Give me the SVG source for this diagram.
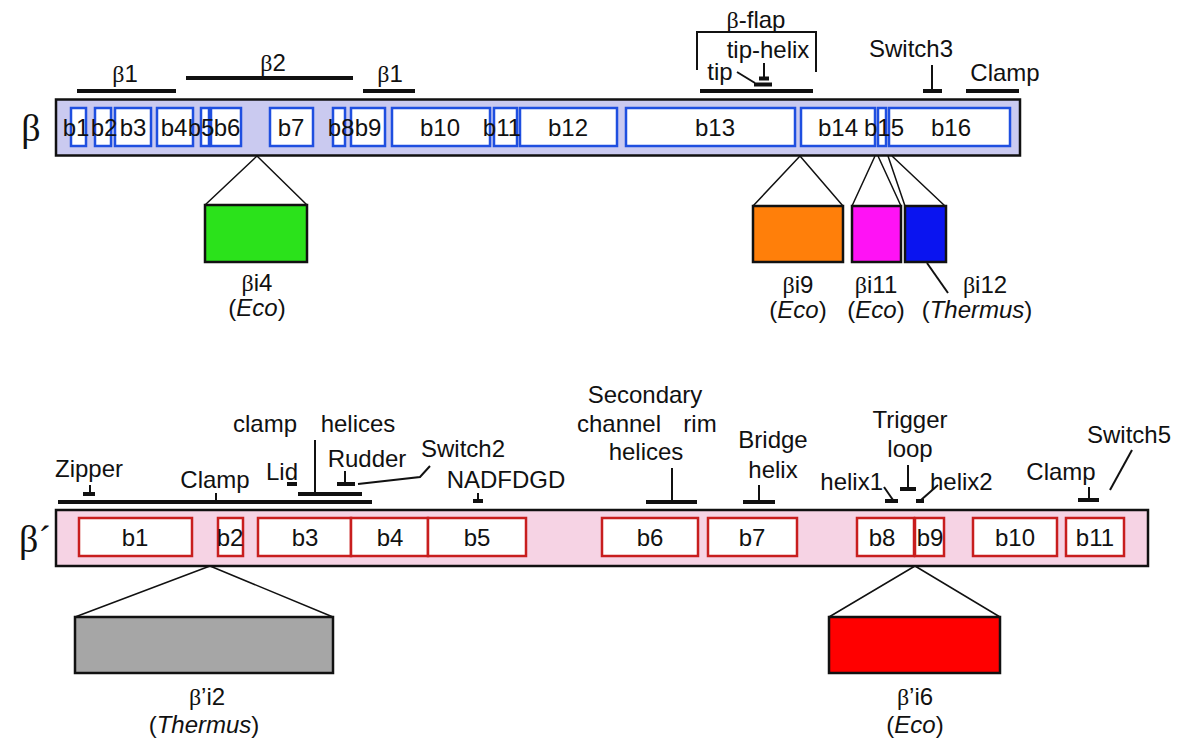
<svg xmlns="http://www.w3.org/2000/svg" width="1178" height="743" viewBox="0 0 1178 743">
<style>
text{font-family:"Liberation Sans",Arial,sans-serif;font-size:24px;fill:#111;text-anchor:middle}
.g{font-family:"Liberation Serif","Times New Roman",serif}
.big{font-family:"Liberation Serif","Times New Roman",serif;font-size:38px}
.it{font-style:italic}
.bar{stroke:#111;stroke-width:4;fill:none}
.thin{stroke:#111;stroke-width:2;fill:none}
.lead{stroke:#111;stroke-width:1.5;fill:none}
.bb{fill:#fff;stroke:#1f4fe0;stroke-width:2.5}
.rb{fill:#fff;stroke:#c81e1e;stroke-width:2.5}
.ins{stroke:#111;stroke-width:2.5}
</style>
<rect width="1178" height="743" fill="#fff"/>

<!-- beta subunit -->
<g id="beta-bar">
<rect x="56" y="99.5" width="964" height="56" fill="#cacaf0" stroke="#111" stroke-width="2.5"/>
<text class="big" x="31" y="141">β</text>
</g>
<g id="beta-domains">
<rect class="bb" x="71" y="108" width="15" height="38"/>
<rect class="bb" x="95" y="108" width="16" height="38"/>
<rect class="bb" x="115" y="108" width="36" height="38"/>
<rect class="bb" x="157" y="108" width="36" height="38"/>
<rect class="bb" x="201" y="108" width="8" height="38"/>
<rect class="bb" x="211" y="108" width="30" height="38"/>
<rect class="bb" x="270" y="108" width="43" height="38"/>
<rect class="bb" x="333" y="108" width="12" height="38"/>
<rect class="bb" x="351" y="108" width="34" height="38"/>
<rect class="bb" x="392" y="108" width="98" height="38"/>
<rect class="bb" x="494" y="108" width="23" height="38"/>
<rect class="bb" x="520" y="108" width="97" height="38"/>
<rect class="bb" x="626" y="108" width="169" height="38"/>
<rect class="bb" x="801" y="108" width="74" height="38"/>
<rect class="bb" x="878" y="108" width="8" height="38"/>
<rect class="bb" x="889" y="108" width="121" height="38"/>
<text x="76" y="136">b1</text>
<text x="104" y="136">b2</text>
<text x="133" y="136">b3</text>
<text x="174" y="136">b4</text>
<text x="201" y="136">b5</text>
<text x="227" y="136">b6</text>
<text x="291" y="136">b7</text>
<text x="341" y="136">b8</text>
<text x="368" y="136">b9</text>
<text x="440" y="136">b10</text>
<text x="502" y="136">b11</text>
<text x="568" y="136">b12</text>
<text x="715" y="136">b13</text>
<text x="838" y="136">b14</text>
<text x="884" y="136">b15</text>
<text x="951" y="136">b16</text>
</g>
<g id="beta-regions">
<line class="bar" x1="77" y1="91" x2="176" y2="91"/>
<text x="125" y="82"><tspan class="g">β</tspan>1</text>
<line class="bar" x1="186" y1="78" x2="353" y2="78"/>
<text x="273" y="71"><tspan class="g">β</tspan>2</text>
<line class="bar" x1="363" y1="91" x2="415" y2="91"/>
<text x="390" y="82"><tspan class="g">β</tspan>1</text>
<line class="bar" x1="700" y1="91" x2="813" y2="91"/>
<path class="thin" d="M697,70 V32 H816 V72"/>
<text x="756" y="28"><tspan class="g">β</tspan>-flap</text>
<text x="768" y="58">tip-helix</text>
<path class="thin" d="M764,63 V78"/>
<line class="bar" x1="759" y1="78.5" x2="769" y2="78.5"/>
<text x="720" y="80">tip</text>
<path class="thin" d="M737,72 L755,83"/>
<line class="bar" x1="754" y1="84.5" x2="772" y2="84.5"/>
<text x="911" y="57">Switch3</text>
<path class="thin" d="M932,65 V91"/>
<line class="bar" x1="923" y1="91" x2="942" y2="91"/>
<text x="1005" y="81">Clamp</text>
<line class="bar" x1="966" y1="91" x2="1019" y2="91"/>
</g>

<g id="connectors">
<path class="lead" d="M257,156 L205,205 M257,156 L307,205"/>
<path class="lead" d="M800,156 L753,206 M800,156 L843,206"/>
<path class="lead" d="M875,156 L852,206 M878,156 L901,206"/>
<path class="lead" d="M888,156 L905,206 M892,156 L945,206"/>
<path class="thin" d="M927,263 L948,293"/>
<path class="lead" d="M210,566 L75,617 M210,566 L333,617"/>
<path class="lead" d="M915,566 L829,617 M915,566 L1000,617"/>
<path class="thin" d="M358,484 L420,477 L430,466"/>
</g>

<g id="bi4">
<rect class="ins" x="205" y="205" width="102" height="57" fill="#2be21b"/>
<text x="257" y="291"><tspan class="g">β</tspan>i4</text>
<text x="257" y="316">(<tspan class="it">Eco</tspan>)</text>
</g>
<g id="bi9">
<rect class="ins" x="753" y="206" width="90" height="56" fill="#ff7f0a"/>
<text x="798" y="293"><tspan class="g">β</tspan>i9</text>
<text x="798" y="318">(<tspan class="it">Eco</tspan>)</text>
</g>
<g id="bi11">
<rect class="ins" x="852" y="206" width="49" height="56" fill="#ff12f5"/>
<text x="876" y="293"><tspan class="g">β</tspan>i11</text>
<text x="876" y="318">(<tspan class="it">Eco</tspan>)</text>
</g>
<g id="bi12">
<rect class="ins" x="905" y="206" width="41" height="56" fill="#0a14f0"/>
<text x="985" y="293"><tspan class="g">β</tspan>i12</text>
<text x="977" y="318">(<tspan class="it">Thermus</tspan>)</text>
</g>

<!-- beta prime subunit -->
<g id="betaprime-bar">
<rect x="56" y="510" width="1092" height="56" fill="#f6d3e4" stroke="#111" stroke-width="2.5"/>
<text class="big" x="35" y="552">β´</text>
</g>
<g id="betaprime-domains">
<rect class="rb" x="79" y="518" width="113" height="38"/>
<rect class="rb" x="218" y="518" width="25" height="38"/>
<rect class="rb" x="258" y="518" width="93" height="38"/>
<rect class="rb" x="351" y="518" width="77" height="38"/>
<rect class="rb" x="428" y="518" width="98" height="38"/>
<rect class="rb" x="602" y="518" width="96" height="38"/>
<rect class="rb" x="708" y="518" width="89" height="38"/>
<rect class="rb" x="857" y="518" width="57" height="38"/>
<rect class="rb" x="915" y="518" width="29" height="38"/>
<rect class="rb" x="973" y="518" width="84" height="38"/>
<rect class="rb" x="1066" y="518" width="58" height="38"/>
<text x="135" y="546">b1</text>
<text x="230" y="546">b2</text>
<text x="305" y="546">b3</text>
<text x="390" y="546">b4</text>
<text x="477" y="546">b5</text>
<text x="650" y="546">b6</text>
<text x="752" y="546">b7</text>
<text x="882" y="546">b8</text>
<text x="930" y="546">b9</text>
<text x="1015" y="546">b10</text>
<text x="1095" y="546">b11</text>
</g>
<g id="betaprime-regions">
<line class="bar" x1="58" y1="502" x2="372" y2="502"/>
<text x="89" y="477">Zipper</text>
<path class="thin" d="M90,485 V494"/>
<line class="bar" x1="83" y1="494" x2="95" y2="494"/>
<text x="215" y="488">Clamp</text>
<path class="thin" d="M216,493 V502"/>
<text x="282" y="480">Lid</text>
<line class="bar" x1="287" y1="484" x2="297" y2="484"/>
<text x="265" y="432">clamp</text>
<text x="358" y="432">helices</text>
<path class="thin" d="M315,440 V494"/>
<line class="bar" x1="298" y1="494" x2="362" y2="494"/>
<text x="367" y="467">Rudder</text>
<path class="thin" d="M345,471 V484"/>
<line class="bar" x1="337" y1="484" x2="355" y2="484"/>
<text x="463" y="457">Switch2</text>
<text x="506" y="488">NADFDGD</text>
<path class="thin" d="M478,493 V501"/>
<line class="bar" x1="473" y1="501" x2="483" y2="501"/>
<text x="645" y="403">Secondary</text>
<text x="619" y="432">channel</text>
<text x="700" y="432">rim</text>
<text x="646" y="460">helices</text>
<path class="thin" d="M672,468 V502"/>
<line class="bar" x1="646" y1="502" x2="697" y2="502"/>
<text x="773" y="448">Bridge</text>
<text x="773" y="478">helix</text>
<path class="thin" d="M759,485 V502"/>
<line class="bar" x1="743" y1="502" x2="775" y2="502"/>
<text x="910" y="428">Trigger</text>
<text x="910" y="457">loop</text>
<path class="thin" d="M908,465 V489"/>
<line class="bar" x1="900" y1="489" x2="916" y2="489"/>
<text x="883" y="490" style="text-anchor:end">helix1</text>
<path class="thin" d="M884,487 L893,500"/>
<line class="bar" x1="885" y1="501" x2="898" y2="501"/>
<text x="930" y="490" style="text-anchor:start">helix2</text>
<path class="thin" d="M938,485 L921,500"/>
<line class="bar" x1="916" y1="501" x2="924" y2="501"/>
<text x="1061" y="480">Clamp</text>
<path class="thin" d="M1089,487 V500"/>
<line class="bar" x1="1078" y1="500" x2="1099" y2="500"/>
<text x="1129" y="443">Switch5</text>
<path class="thin" d="M1132,450 L1110,490"/>
</g>

<g id="bpi2">
<rect class="ins" x="75" y="617" width="258" height="56" fill="#a6a6a6"/>
<text x="207" y="705"><tspan class="g">β</tspan>’i2</text>
<text x="204" y="733">(<tspan class="it">Thermus</tspan>)</text>
</g>
<g id="bpi6">
<rect class="ins" x="829" y="617" width="171" height="56" fill="#ff0000"/>
<text x="915" y="705"><tspan class="g">β</tspan>’i6</text>
<text x="915" y="733">(<tspan class="it">Eco</tspan>)</text>
</g>
</svg>
